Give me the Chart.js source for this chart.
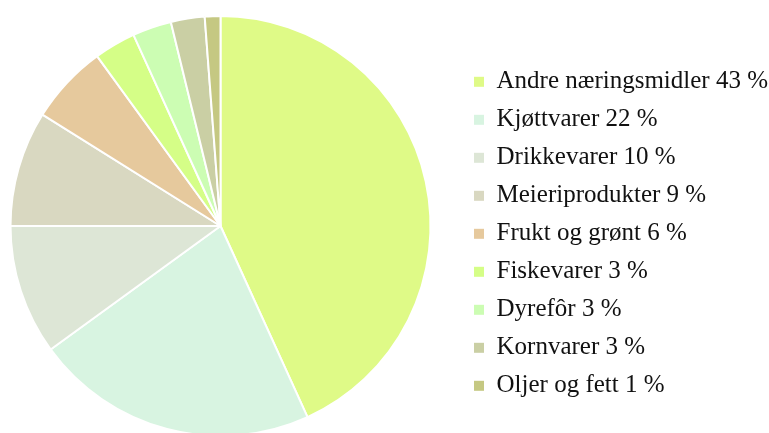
<!DOCTYPE html>
<html>
<head>
<meta charset="utf-8">
<script src="https://cdn.jsdelivr.net/npm/chart.js@4/dist/chart.umd.min.js"></script>
<style>
  html, body { margin: 0; padding: 0; background: #ffffff; overflow: hidden; width: 769px; height: 433px; }
  #wrap { position: absolute; left: -20px; top: 0; width: 798px; height: 452px; }
</style>
</head>
<body>
<div id="wrap"><canvas id="c"></canvas></div>
<script>
const categories = ["Andre næringsmidler", "Kjøttvarer", "Drikkevarer", "Meieriprodukter", "Frukt og grønt", "Fiskevarer", "Dyrefôr", "Kornvarer", "Oljer og fett"];
const shares = [43.2, 21.8, 10.0, 8.9, 6.1, 3.2, 3.0, 2.6, 1.2];
const sliceColors = ["#dffa87", "#d8f4e1", "#dde6d6", "#d9d8c1", "#e6c99d", "#d5fe87", "#ccfdb3", "#cacfa4", "#c5c882"];

const labels = categories.map((c, i) => c + " " + Math.round(shares[i]) + " %");

new Chart(document.getElementById("c"), {
  type: "pie",
  data: {
    labels: labels,
    datasets: [{
      data: shares,
      backgroundColor: sliceColors,
      borderColor: "#ffffff",
      borderWidth: 2
    }]
  },
  options: {
    responsive: true,
    maintainAspectRatio: false,
    animation: false,
    radius: 210,
    events: [],
    layout: { padding: { left: 0, right: 0, top: 0, bottom: 0 } },
    plugins: {
      tooltip: { enabled: false },
      legend: {
        position: "right",
        title: { display: true, text: "", padding: 0, font: { size: 13 } },
        labels: {
          boxWidth: 10,
          boxHeight: 10,
          padding: 13,
          color: "#111111",
          font: { family: "'Liberation Serif', serif", size: 25 },
          generateLabels: function (chart) {
            const items = Chart.overrides.pie.plugins.legend.labels.generateLabels(chart);
            items.forEach(it => { it.lineWidth = 0; it.strokeStyle = it.fillStyle; });
            return items;
          }
        }
      }
    }
  }
});
</script>
</body>
</html>
